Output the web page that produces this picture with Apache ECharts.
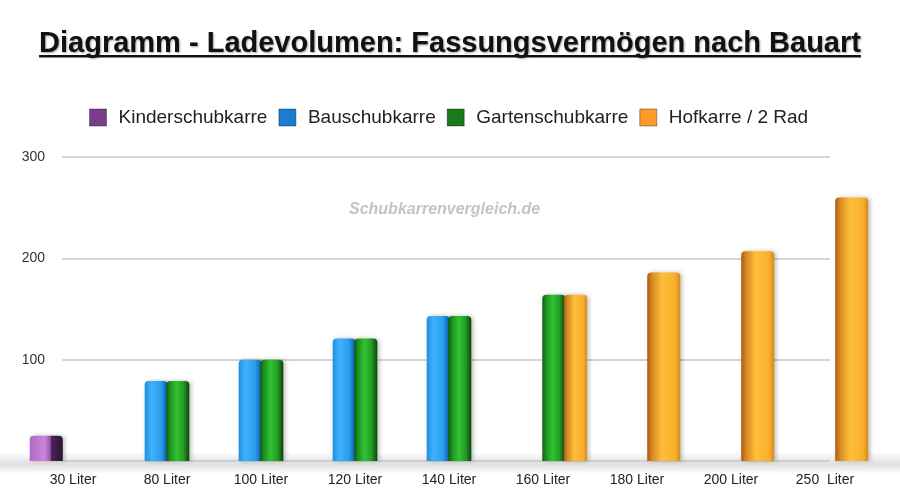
<!DOCTYPE html>
<html>
<head>
<meta charset="utf-8">
<script src="https://cdn.jsdelivr.net/npm/echarts@6/dist/echarts.min.js"></script>
<style>
html,body{margin:0;padding:0;background:#fff;}
#c{width:900px;height:503px;}
</style>
</head>
<body>
<div id="c"></div>
<script>
var titleText = 'Diagramm - Ladevolumen: Fassungsvermögen nach Bauart';
var categories = ['30 Liter', '80 Liter', '100 Liter', '120 Liter', '140 Liter', '160 Liter', '180 Liter', '200 Liter', '250  Liter'];
var seriesNames = ['Kinderschubkarre', 'Bauschubkarre', 'Gartenschubkarre', 'Hofkarre / 2 Rad'];
var kinder = [25, null, null, null, null, null, null, null, null];
var bau = [null, 79, 100, 121, 143, null, null, null, null];
var garten = [null, 79, 100, 121, 143, 164, null, null, null];
var hof = [null, null, null, null, null, 164, 186, 207, 260];
var yTicks = [0, 100, 200, 300];

var FONT = 'Liberation Sans, Arial, Helvetica, sans-serif';
function grad(stops) {
  return new echarts.graphic.LinearGradient(0, 0, 1, 0, stops.map(function (s) { return { offset: s[0], color: s[1] }; }));
}
var styles = [
  grad([[0, '#b566c8'], [0.45, '#c987d9'], [0.62, '#9a55ad'], [0.66, '#4a2456'], [1, '#2e1436']]),
  grad([[0, '#1f8fe0'], [0.3, '#3fb2fa'], [0.7, '#2a9ef0'], [0.9, '#1672c0'], [1, '#0d4f8c']]),
  grad([[0, '#135e13'], [0.2, '#1f9a1f'], [0.45, '#32c232'], [0.75, '#229c22'], [1, '#0c420c']]),
  grad([[0, '#a85c12'], [0.15, '#d88a22'], [0.45, '#ffbf3a'], [0.85, '#f8ae2c'], [1, '#d08a1c']])
];
var legendColors = ['#7a3d8a', '#1a7dd0', '#1a7a1a', '#fb9b2a'];
var dataSets = [kinder, bau, garten, hof];

// categories in which only one series has a value are drawn as wide single bars
var isSingle = categories.map(function (c, j) {
  var n = 0;
  dataSets.forEach(function (d) { if (d[j] != null) n++; });
  return n === 1;
});

var chart = echarts.init(document.getElementById('c'), null, { renderer: 'canvas' });

var ctx = document.createElement('canvas').getContext('2d');
ctx.font = 'bold 29px ' + FONT;
var tw = ctx.measureText(titleText).width;

var barStyle = function (i) {
  return { color: styles[i], borderRadius: [4, 4, 0, 0], shadowColor: 'rgba(0,0,0,0.25)', shadowBlur: 4, shadowOffsetX: 2 };
};

var series = [];
dataSets.forEach(function (d, i) {
  series.push({
    name: seriesNames[i], type: 'bar', xAxisIndex: 1, yAxisIndex: 1,
    data: d.map(function (v, j) { return isSingle[j] ? null : v; }),
    barWidth: 23, barGap: '-6%', itemStyle: barStyle(i), z: 3
  });
});
// single-bar layer: first series on the left slot, last series on the right slot
[0, 3].forEach(function (i) {
  series.push({
    name: seriesNames[i], type: 'bar', xAxisIndex: 2, yAxisIndex: 2,
    data: dataSets[i].map(function (v, j) { return isSingle[j] ? v : null; }),
    barWidth: 33, barGap: '62%', itemStyle: barStyle(i), z: 3
  });
});

chart.setOption({
  backgroundColor: '#ffffff',
  animation: false,
  title: {
    text: titleText,
    left: 'center',
    top: 24,
    textStyle: { fontFamily: FONT, fontSize: 29, fontWeight: 'bold', color: '#111', textShadowColor: 'rgba(0,0,0,0.35)', textShadowBlur: 2, textShadowOffsetX: 1, textShadowOffsetY: 1 }
  },
  graphic: [
    { type: 'rect', shape: { x: 450 - tw / 2, y: 55, width: tw, height: 2.5 }, style: { fill: '#111' }, z: 10 },
    { type: 'rect', shape: { x: 0, y: 452, width: 900, height: 22 }, style: { fill: new echarts.graphic.LinearGradient(0, 0, 0, 1, [{ offset: 0, color: 'rgba(0,0,0,0)' }, { offset: 0.45, color: 'rgba(0,0,0,0.10)' }, { offset: 0.55, color: 'rgba(0,0,0,0.12)' }, { offset: 1, color: 'rgba(0,0,0,0)' }]) }, z: 0 },
    { type: 'text', left: 349, top: 202, style: { text: 'Schubkarrenvergleich.de', fill: '#c4c4c4', font: 'italic bold 16px ' + FONT }, z: 1 }
  ],
  legend: {
    left: 84,
    top: 103,
    itemWidth: 17,
    itemHeight: 17,
    itemGap: 11,
    icon: 'rect',
    textStyle: { fontFamily: FONT, fontSize: 19, color: '#222', padding: [0, 0, 0, 7] },
    data: seriesNames.map(function (n, i) { return { name: n, itemStyle: { color: legendColors[i], borderColor: 'rgba(0,0,0,0.35)', borderWidth: 1 } }; })
  },
  grid: [
    { left: 62, right: 70, top: 157, bottom: 42 },
    { left: 26, right: 28, top: 157, bottom: 42 },
    { left: 26, right: 28, top: 157, bottom: 42 }
  ],
  xAxis: [
    { type: 'value', gridIndex: 0, show: false, min: 0, max: 1 },
    {
      type: 'category', gridIndex: 1, data: categories,
      axisLine: { show: false }, axisTick: { show: false },
      axisLabel: { fontFamily: FONT, fontSize: 14, color: '#222', margin: 12 }
    },
    { type: 'category', gridIndex: 2, data: categories, show: false }
  ],
  yAxis: [
    {
      type: 'value', gridIndex: 0, min: yTicks[0], max: yTicks[yTicks.length - 1], interval: 100,
      axisLine: { show: false }, axisTick: { show: false },
      axisLabel: { fontFamily: FONT, fontSize: 14, color: '#333', margin: 17, showMinLabel: false },
      splitLine: { lineStyle: { color: '#c6c6c6', width: 1.5 } }
    },
    { type: 'value', gridIndex: 1, min: 0, max: 300, show: false, splitLine: { show: false } },
    { type: 'value', gridIndex: 2, min: 0, max: 300, show: false, splitLine: { show: false } }
  ],
  series: series
});
</script>
</body>
</html>
